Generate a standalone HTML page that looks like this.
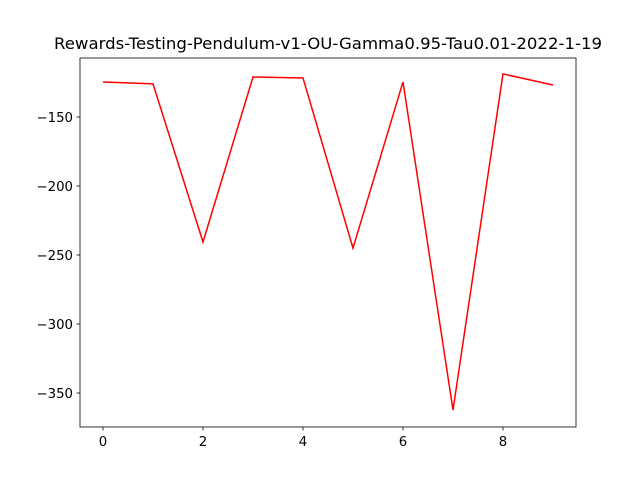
<!DOCTYPE html>
<html><head><meta charset="utf-8"><style>
body{margin:0;background:#fff}
svg text{font-family:"DejaVu Sans","Liberation Sans",sans-serif;fill:#000}
</style></head><body>
<svg id="chart" width="640" height="480">
<rect x="0" y="0" width="640" height="480" fill="#fff"/>
<text x="54" y="49" font-size="16" textLength="548" lengthAdjust="spacingAndGlyphs">Rewards-Testing-Pendulum-v1-OU-Gamma0.95-Tau0.01-2022-1-19</text>
<g id="axes"></g>
</svg>
<script>
const episodes=[0,1,2,3,4,5,6,7,8,9];
const rewards=[-124.6,-126,-240.6,-121,-121.7,-245,-124.6,-362.3,-118.8,-126.8];
const xTicks=[0,2,4,6,8];
const yTicks=[-150,-200,-250,-300,-350];
const ns="http://www.w3.org/2000/svg";
const g=document.getElementById('axes');
const L=80,R=576,T=58,B=427;
function xs(v){return 103+(v-0)*50;}
function ys(v){return 117+(-150-v)*1.38;}
function mk(t,a){const e=document.createElementNS(ns,t);for(const k in a)e.setAttribute(k,a[k]);g.appendChild(e);return e;}
const pts=episodes.map((e,i)=>xs(e)+','+ys(rewards[i])).join(' ');
const line=mk('polyline',{points:pts,fill:'none',stroke:'#ff0000','stroke-width':1.5});


const frame=mk('rect',{x:L,y:T,width:R-L,height:B-T,fill:'none',stroke:'#000','stroke-width':0.8});


xTicks.forEach(v=>{
  const x=xs(v);
  const t=mk('line',{x1:x,x2:x,y1:B,y2:B+3.5,stroke:'#000','stroke-width':0.8});
  
  
  const l=mk('text',{x:x,y:B+19,'font-size':13.3,'text-anchor':'middle'});
  l.textContent=v;
  
  
});
yTicks.forEach(v=>{
  const y=ys(v);
  const t=mk('line',{x1:L-3.5,x2:L,y1:y,y2:y,stroke:'#000','stroke-width':0.8});
  
  
  const l=mk('text',{x:L-7,y:y+5,'font-size':13.3,'text-anchor':'end'});
  l.textContent='\u2212'+Math.abs(v);
  
  
});
</script>
</body></html>
